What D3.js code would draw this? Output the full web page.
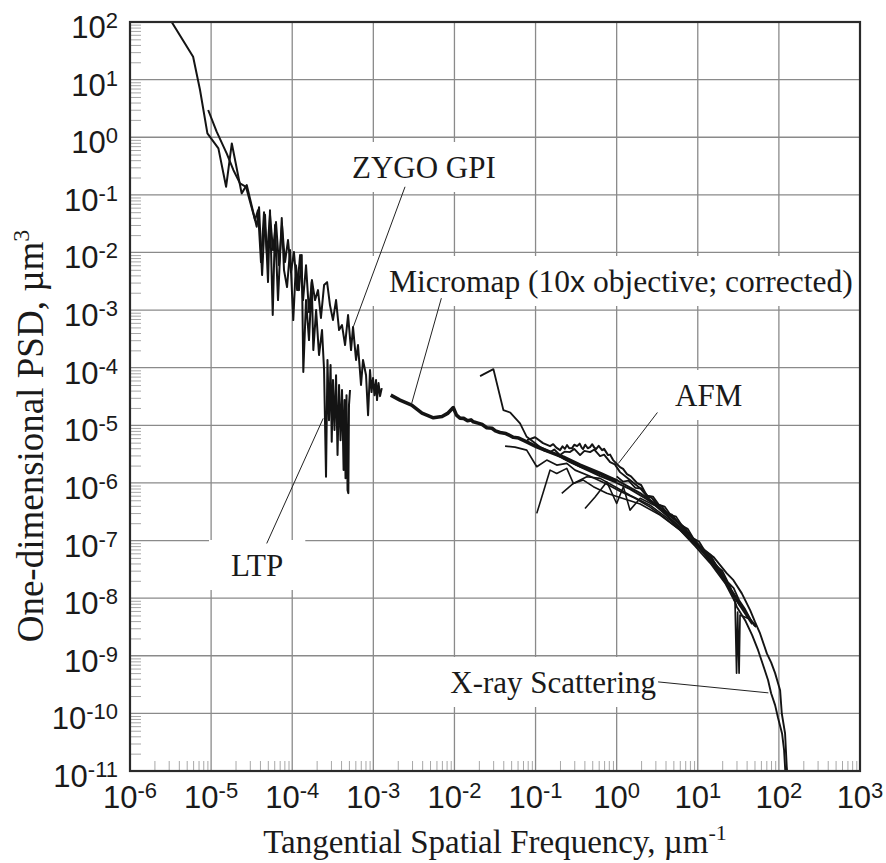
<!DOCTYPE html>
<html><head><meta charset="utf-8">
<script src="https://cdn.jsdelivr.net/npm/d3@7/dist/d3.min.js"></script>
<style>body{margin:0;background:#fff}svg{display:block}</style>
</head><body>
<svg id="chart" width="886" height="863"></svg>
<script>
// ---- tick decades (exponents of 10) ----
const xDecades = [-6,-5,-4,-3,-2,-1,0,1,2,3];
const yDecades = [2,1,0,-1,-2,-3,-4,-5,-6,-7,-8,-9,-10,-11];

// ---- series: [frequency (1/um), PSD (um^3)] ----
const ltp = [[2.94e-6,127],[6.0e-6,25],[7.3e-6,6.6],[9.0e-6,1.17],[1.23e-5,0.64],[1.53e-5,0.138],[1.8e-5,0.78],[2.38e-5,0.106],[2.75e-5,0.148],[3.65e-5,0.028],
[3.9e-5,6.1e-2],[4.25e-5,4.05e-3],[4.62e-5,4.5e-2],[5.03e-5,3.06e-3],[5.32e-5,5.4e-2],[5.75e-5,8.2e-4],[6.14e-5,2.99e-2],[6.68e-5,1.49e-3],[7.43e-5,3.95e-2],[7.92e-5,4.95e-3],[8.63e-5,2.51e-3],[9.4e-5,1.1e-2],[1.03e-4,6.7e-4],[1.11e-4,6.0e-3],[1.21e-4,2.22e-3],[1.31e-4,9.0e-3],[1.37e-4,8.4e-5],[1.48e-4,1.49e-3],[1.61e-4,3.01e-4],[1.74e-4,3.06e-3],[1.82e-4,2.02e-4],[1.97e-4,1.0e-3],[2.14e-4,1.66e-4],[2.33e-4,4.5e-4],[2.47e-4,9.1e-5],[2.61e-4,1.28e-6],[2.72e-4,1.36e-4],[2.84e-4,1.23e-5],[2.97e-4,1.11e-4],[3.07e-4,5.2e-6],[3.18e-4,6.1e-5],[3.32e-4,8.3e-6],[3.47e-4,7.4e-5],[3.62e-4,3.04e-6],[3.78e-4,5.0e-5],[3.94e-4,5.5e-6],[4.11e-4,4.1e-5],[4.3e-4,1.67e-6],[4.42e-4,2.74e-5],[4.54e-4,1.21e-6],[4.67e-4,3.34e-5],[4.81e-4,7.5e-7],[4.92e-4,6.65e-7],[5.01e-4,2.24e-5],[5.16e-4,4.1e-5]];

const zygo = [[9.2e-6,2.97],[1.17e-5,1.25],[1.56e-5,0.52],[1.88e-5,0.27],[2.27e-5,0.158],[2.69e-5,0.138],[3.48e-5,3.65e-2],[3.78e-5,5.4e-2],[4.12e-5,6.8e-3],[4.49e-5,5.0e-2],[4.89e-5,9.0e-3],[5.32e-5,4.5e-2],[5.8e-5,1.1e-2],[6.31e-5,3.37e-2],[6.87e-5,6.0e-3],[7.48e-5,2.99e-2],[8.15e-5,6.8e-3],[8.87e-5,1.64e-2],[9.66e-5,4.57e-3],[1.05e-4,1.02e-2],[1.15e-4,2.22e-3],[1.25e-4,9.0e-3],[1.36e-4,1.49e-3],[1.48e-4,6.0e-3],[1.61e-4,9.2e-4],[1.75e-4,3.32e-3],[1.91e-4,1.49e-3],[2.08e-4,2.22e-3],[2.26e-4,7.3e-4],[2.47e-4,2.72e-3],[2.69e-4,3.06e-3],[2.92e-4,1.22e-3],[3.18e-4,6.7e-4],[3.47e-4,1.49e-3],[3.78e-4,4.5e-4],[4.11e-4,5.5e-4],[4.48e-4,2.47e-4],[4.88e-4,8.2e-4],[5.31e-4,2.02e-4],[5.62e-4,5.07e-4],[6.12e-4,1.36e-4],[6.47e-4,2.47e-4],[7.05e-4,5.0e-5],[7.46e-4,1.36e-4],[8.13e-4,7.4e-5],[8.61e-4,1.5e-5],[9.1e-4,9.1e-5],[9.5e-4,3.77e-5],[9.91e-4,6.6e-5],[1.035e-3,3.34e-5],[1.08e-3,6.1e-5],[1.11e-3,2.74e-5],[1.16e-3,5.4e-5],[1.21e-3,3.21e-5],[1.27e-3,4.42e-5]];

const micromap = [[1.64e-3,3.34e-5],[2.13e-3,2.74e-5],[2.97e-3,2.24e-5],[3.98e-3,1.63e-5],[5.5e-3,1.35e-5],[7.03e-3,1.42e-5],[8.34e-3,1.63e-5],[9.68e-3,2.03e-5],[1.06e-2,1.5e-5],[1.17e-2,1.33e-5],[1.3e-2,1.32e-5],[1.45e-2,1.2e-5],[1.6e-2,1.24e-5],[1.71e-2,1.15e-5],[2.0e-2,1.08e-5],[2.2e-2,1.03e-5],[2.5e-2,9.1e-6],[2.9e-2,8.9e-6],[3.2e-2,8.0e-6],[3.65e-2,7.5e-6],[4.3e-2,7.2e-6],[5.32e-2,6.2e-6],[6.2e-2,6.0e-6],[7.43e-2,5.3e-6],[0.1035,4.24e-6],[0.151,3.43e-6],[0.22,2.81e-6],[0.354,2.04e-6],[0.624,1.46e-6],[1.01,1.07e-6]];

const afm1 = [[7.85e-2,5.53e-6],[9.86e-2,6.2e-6],[0.1236,4.91e-6],[0.151,4.35e-6],[0.165,4.7e-6],[0.18,4.1e-6],[0.2004,3.71e-6],[0.215,4.3e-6],[0.23,3.9e-6],[0.2443,4.53e-6],[0.26,4.0e-6],[0.282,4.02e-6],[0.3,4.6e-6],[0.325,4.35e-6],[0.35,4.8e-6],[0.37,4.1e-6],[0.385,3.86e-6],[0.41,4.6e-6],[0.44,4.0e-6],[0.47,4.19e-6],[0.5,4.7e-6],[0.53,4.1e-6],[0.557,3.86e-6],[0.6,4.4e-6],[0.661,3.71e-6],[0.7,3.9e-6],[0.783,3.04e-6],[0.83,3.1e-6],[0.904,2.49e-6],[1.1,1.88e-6],[1.2,1.75e-6],[1.34,1.42e-6],[1.5,1.3e-6],[1.79,9.9e-7],[2.0,9.2e-7],[2.37,5.9e-7],[2.7,5.5e-7],[3.15,4.3e-7],[3.6,3.9e-7],[4.18,2.99e-7],[4.8,2.8e-7],[5.56,2.17e-7],[6.78,1.71e-7],[8.04,1.24e-7],[9.8,9.0e-8],[11.6,7.1e-8],[14.2,5.2e-8],[18.8,3.06e-8],[25,1.49e-8],[33.2,8.2e-9],[46.8,3.83e-9],[50.9,3.27e-9]];
const afm2 = [[0.1135,4.02e-6],[0.13,3.6e-6],[0.151,3.43e-6],[0.17,3.8e-6],[0.2004,3.04e-6],[0.23,3.5e-6],[0.266,3.43e-6],[0.3,3.9e-6],[0.354,3.04e-6],[0.4,3.6e-6],[0.47,3.43e-6],[0.53,3.8e-6],[0.624,2.92e-6],[0.7,3.1e-6],[0.83,2.3e-6],[0.95,2.1e-6],[1.1,1.54e-6],[1.46,1.12e-6],[1.95,8.1e-7],[2.58,5.0e-7],[3.43,3.65e-7],[4.55,2.45e-7],[6.05,1.71e-7],[8.04,1.1e-7],[10.7,7.4e-8],[14.2,4.57e-8],[18.8,2.61e-8],[25,1.38e-8],[33.2,7.3e-9],[46.8,3.54e-9]];
const afm3 = [[2.07e-2,7.15e-5],[3.02e-2,9.46e-5],[4.01e-2,1.84e-5],[4.85e-2,1.67e-5],[6.44e-2,1.08e-5],[7.78e-2,6.31e-6],[0.1135,4.19e-6],[0.174,3.16e-6],[0.266,2.3e-6],[0.407,1.74e-6],[0.624,1.31e-6],[0.955,1.03e-6],[1.46,7.8e-7],[2.24,5.4e-7],[3.43,3.65e-7],[5.25,2.26e-7],[8.04,1.24e-7],[12.3,6.0e-8],[17.8,3.06e-8],[25,1.49e-8],[33.2,7.9e-9],[44.2,4.15e-9],[52.4,3.14e-9]];
const afm4 = [[4.21e-2,4.35e-6],[5.58e-2,4.19e-6],[7.78e-2,3.71e-6],[0.1035,1.91e-6],[0.1374,2.49e-6],[0.1824,2.04e-6],[0.2427,2.18e-6],[0.307,1.67e-6],[0.47,1.31e-6],[0.719,9.9e-7],[1.1,7.2e-7],[1.69,5.4e-7],[2.58,3.8e-7],[3.95,2.45e-7],[6.05,1.52e-7],[9.27,8.0e-8],[14.2,4.06e-8],[21.7,1.82e-8],[28.8,8.5e-9],[30.1,5.0e-10],[31.0,5.7e-9],[32.3,5.0e-10],[33.2,5.1e-9],[44.2,4.3e-9]];
const afm5 = [[0.1035,2.96e-7],[0.151,1.67e-6],[0.1824,1.46e-6],[0.2427,1.79e-6],[0.2924,9.8e-7],[0.388,1.12e-6],[0.516,8.6e-7],[0.755,6.6e-7],[1.1,5.6e-7],[1.95,4.3e-7],[3.43,2.76e-7],[6.05,1.52e-7],[10.7,7.1e-8],[18.8,2.61e-8],[33.2,7.3e-9]];
const afm6 = [[0.2104,6.6e-7],[0.2924,9.8e-7],[0.428,1.28e-6],[0.624,1.2e-6],[0.955,8.6e-7],[1.46,6.1e-7],[2.58,4.1e-7],[4.55,2.26e-7],[8.04,1.1e-7],[14.2,4.6e-8]];
const afm7 = [[0.407,3.6e-7],[0.542,5.7e-7],[0.755,1.04e-6],[1.0,4.4e-7],[1.21,8.6e-7],[1.46,3.37e-7],[1.95,5.4e-7],[3.0,4.0e-7],[4.55,2.4e-7],[8.0,1.2e-7]];
const afm8 = [[1.0,1.3e-6],[1.2,1.05e-6],[1.4,1.1e-6],[1.7,8.2e-7],[2.0,8.0e-7],[2.4,6.0e-7],[2.8,5.8e-7],[3.3,4.2e-7],[3.9,3.9e-7],[4.6,2.8e-7],[5.4,2.6e-7],[6.4,1.8e-7],[7.5,1.6e-7],[8.8,1.1e-7],[10.4,9.5e-8],[12.2,6.6e-8],[14.4,5.6e-8],[17,3.6e-8],[20,3.0e-8],[23.5,1.9e-8],[27.7,1.5e-8],[32.6,9.0e-9],[38.4,6.4e-9],[45,4.2e-9],[52,3.3e-9]];

const xray1 = [[0.218,2.7e-6],[0.354,1.91e-6],[1.0,1.12e-6],[1.95,6.65e-7],[3.43,3.8e-7],[6.05,1.93e-7],[10.2,8.3e-8],[15.6,5.2e-8],[22.8,2.69e-8],[27.5,2.05e-8],[34.9,1.21e-8],[44.2,6.2e-9],[50.9,3.83e-9],[58.6,2.44e-9],[71,1.1e-9],[80.2,7.7e-10],[89.8,5.0e-10],[103.5,2.53e-10],[108.6,9.95e-11],[119.2,4.48e-11],[125,1.18e-11],[128,8e-12]];
const xray2 = [[10.7,7.4e-8],[17.8,3.4e-8],[25.0,1.6e-8],[30.2,7.1e-9],[38.3,4.15e-9],[46.8,2.28e-9],[55.4,1.25e-9],[63.8,6.9e-10],[73.6,3.77e-10],[80.2,2.24e-10],[89.8,1.39e-10],[97.7,8.3e-11],[109.4,4.48e-11],[115.9,2.3e-11],[121,8e-12]];

// ---- annotations: label, leader from/to in data coords ----
const annotations = [
  {text:"ZYGO GPI", from:[2.46e-3,0.138], to:[5.66e-4,5.1e-4]},
  {text:"Micromap (10x objective; corrected)", from:[6.9e-3,1.61e-3], to:[2.97e-3,2.4e-5]},
  {text:"AFM", from:[3.18,1.67e-5], to:[1.05,2.18e-6]},
  {text:"LTP", from:[4.85e-5,8.9e-8], to:[2.41e-4,1.32e-5]},
  {text:"X-ray Scattering", from:[3.24,3.52e-10], to:[74.2,2.27e-10]}
];

// ================= drawing =================
const svg = d3.select("#chart");
const M = {l:130, r:860, t:22, b:771};
const x = d3.scaleLog().domain([1e-6,1e3]).range([M.l,M.r]);
const y = d3.scaleLog().domain([1e-11,1e2]).range([M.b,M.t]);
const sans = "'Liberation Sans', Arial, sans-serif";
const serif = "'Liberation Serif', 'Times New Roman', serif";
const isDecade = v => Math.abs(Math.log10(v) - Math.round(Math.log10(v))) < 1e-6;

svg.append("defs").append("clipPath").attr("id","plotclip")
  .append("rect").attr("x",M.l).attr("y",M.t).attr("width",M.r-M.l).attr("height",M.b-M.t);

// grid
const grid = svg.append("g");
grid.selectAll("line.gx").data(xDecades).join("line")
  .attr("x1",d=>x(10**d)).attr("x2",d=>x(10**d)).attr("y1",M.t).attr("y2",M.b)
  .attr("stroke","#8a8a8a").attr("stroke-width",1.3);
grid.selectAll("line.gy").data(yDecades).join("line")
  .attr("y1",d=>y(10**d)).attr("y2",d=>y(10**d)).attr("x1",M.l).attr("x2",M.r)
  .attr("stroke","#8a8a8a").attr("stroke-width",1.3);

// minor ticks (inside, left & bottom)
svg.append("g").attr("transform",`translate(${M.l},0)`)
  .call(d3.axisRight(y).tickValues(y.ticks(40).filter(v=>!isDecade(v))).tickSize(11).tickFormat(""))
  .call(g=>{g.select(".domain").remove(); g.selectAll("line").attr("stroke","#a8a8a8").attr("stroke-width",1);});
svg.append("g").attr("transform",`translate(0,${M.b})`)
  .call(d3.axisTop(x).tickValues(x.ticks(40).filter(v=>!isDecade(v))).tickSize(10).tickFormat(""))
  .call(g=>{g.select(".domain").remove(); g.selectAll("line").attr("stroke","#a8a8a8").attr("stroke-width",1);});

// label positions (pixels, layout only)
const labelPos = {
  "ZYGO GPI": {x:352, y:178, anchor:"start"},
  "Micromap (10x objective; corrected)": {x:389, y:292, anchor:"start"},
  "AFM": {x:675, y:406, anchor:"start"},
  "LTP": {x:231, y:576, anchor:"start"},
  "X-ray Scattering": {x:656, y:693, anchor:"end"}
};
const boxLayer = svg.append("g");
const dataLayer = svg.append("g").attr("clip-path","url(#plotclip)");
const annLayer = svg.append("g");

const line = d3.line().x(d=>x(d[0])).y(d=>y(d[1]));
const series = [
  {d:afm7,w:1.6},{d:afm6,w:1.6},{d:afm5,w:1.6},{d:afm8,w:1.8},{d:afm4,w:1.7},{d:afm3,w:1.8},{d:afm2,w:1.9},{d:afm1,w:2.0},
  {d:xray1,w:1.9},{d:xray2,w:1.9},
  {d:ltp,w:2.0},{d:zygo,w:2.0},{d:micromap,w:3.6}
];
dataLayer.selectAll("path").data(series).join("path")
  .attr("d",s=>line(s.d)).attr("fill","none").attr("stroke","#141414")
  .attr("stroke-width",s=>s.w).attr("stroke-linejoin","round");

// annotations
annotations.forEach(a=>{
  const p = labelPos[a.text];
  const t = annLayer.append("text").attr("x",p.x).attr("y",p.y).attr("text-anchor",p.anchor)
    .attr("font-family",serif).attr("font-size",31).attr("fill","#1a1a1a");
  if (a.text.startsWith("Micromap")) {
    t.attr("font-size",31.5);
    t.append("tspan").text("Micromap (10");
    t.append("tspan").attr("font-family",sans).attr("font-size",30).text("x");
    t.append("tspan").text(" objective; corrected)");
  } else t.text(a.text);
  const bb = t.node().getBBox();
  boxLayer.append("rect").attr("x",bb.x-22).attr("y",bb.y-8)
    .attr("width",bb.width+44).attr("height",bb.height+15).attr("fill","#fff");
  annLayer.append("line")
    .attr("x1",x(a.from[0])).attr("y1",y(a.from[1])).attr("x2",x(a.to[0])).attr("y2",y(a.to[1]))
    .attr("stroke","#222").attr("stroke-width",1);
});

// frame
svg.append("rect").attr("x",M.l).attr("y",M.t).attr("width",M.r-M.l).attr("height",M.b-M.t)
  .attr("fill","none").attr("stroke","#2a2a2a").attr("stroke-width",2.2);

// tick labels
const expStr = e => (e<0 ? "-" + (-e) : "" + e);
const yl = svg.append("g").attr("font-family",sans).attr("fill","#1a1a1a");
yDecades.forEach(e=>{
  const t = yl.append("text").attr("x",118).attr("y",y(10**e)+16).attr("text-anchor","end").attr("font-size",31);
  t.append("tspan").text("10");
  t.append("tspan").attr("font-size",22).attr("dy",-10).text(expStr(e));
});
const xl = svg.append("g").attr("font-family",sans).attr("fill","#1a1a1a");
xDecades.forEach(e=>{
  const t = xl.append("text").attr("x",x(10**e)).attr("y",M.b+37).attr("text-anchor","middle").attr("font-size",31);
  t.append("tspan").text("10");
  t.append("tspan").attr("font-size",22).attr("dy",-10).text(expStr(e));
});

// axis titles
const xt = svg.append("text").attr("x",(M.l+M.r)/2).attr("y",853).attr("text-anchor","middle")
  .attr("font-family",serif).attr("font-size",33).attr("fill","#1a1a1a");
xt.append("tspan").text("Tangential Spatial Frequency, \u00b5m");
xt.append("tspan").attr("font-size",22).attr("dy",-13).text("-1");

const ytl = svg.append("text").attr("transform","translate(43,436) rotate(-90)").attr("text-anchor","middle")
  .attr("font-family",serif).attr("font-size",37).attr("fill","#1a1a1a");
ytl.append("tspan").text("One-dimensional PSD, \u00b5m");
ytl.append("tspan").attr("font-size",24).attr("dy",-14).text("3");
</script>
</body></html>
